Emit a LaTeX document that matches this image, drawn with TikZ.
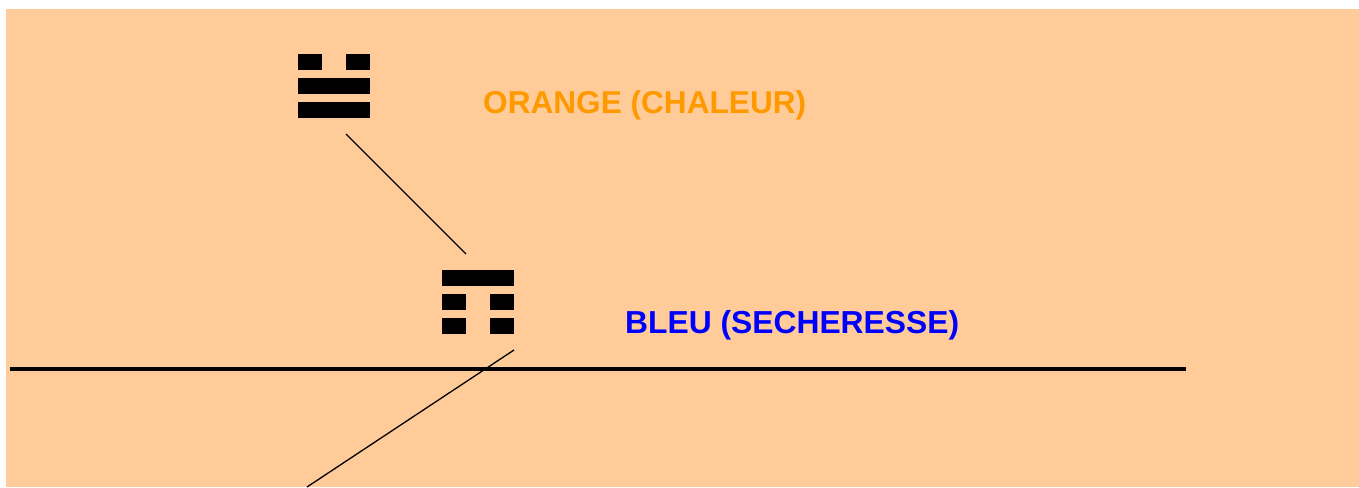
\documentclass[tikz,border=0pt]{standalone}
\usepackage{fontspec}
\setmainfont{Liberation Sans}
\definecolor{peach}{HTML}{FFCC99}
\definecolor{orangetxt}{HTML}{FF9900}
\definecolor{bluetxt}{HTML}{0000FF}
\begin{document}
\begin{tikzpicture}[x=1pt,y=-1pt,
  bar/.style={fill=black,draw=none},
  lbl/.style={inner sep=0pt,anchor=base west,font=\bfseries},
  link/.style={draw=black,line width=1.3pt}]
\useasboundingbox (0,0) rectangle (1359,487);
\fill[white] (0,0) rectangle (1359,487);
\fill[peach] (6,9) rectangle (1359,487);
% top trigram
\fill[bar] (298,54) rectangle (322,70);
\fill[bar] (346,54) rectangle (370,70);
\fill[bar] (298,78) rectangle (370,94);
\fill[bar] (298,102) rectangle (370,118);
% second trigram
\fill[bar] (442,270) rectangle (514,286);
\fill[bar] (442,294) rectangle (466,310);
\fill[bar] (490,294) rectangle (514,310);
\fill[bar] (442,318) rectangle (466,334);
\fill[bar] (490,318) rectangle (514,334);
% labels
\node[lbl,text=orangetxt,font=\fontsize{31.6}{36}\selectfont\bfseries] (orange) at (483,113) {ORANGE (CHALEUR)};
\node[lbl,text=bluetxt,font=\fontsize{31.8}{36}\selectfont\bfseries] (bleu) at (625,333) {BLEU (SECHERESSE)};
% connectors
\coordinate (a1) at (346,134);
\coordinate (a2) at (466,254);
\coordinate (b1) at (514,350);
\coordinate (b2) at (307,487);
\coordinate (h1) at (10,369);
\coordinate (h2) at (1186,369);
\draw[link] (a1) -- (a2);
\begin{scope}
\clip (0,0) rectangle (1359,487);
\draw[link] (b1) -- (b2);
\end{scope}
\draw[black,line width=4pt] (h1) -- (h2);
\end{tikzpicture}
\end{document}
